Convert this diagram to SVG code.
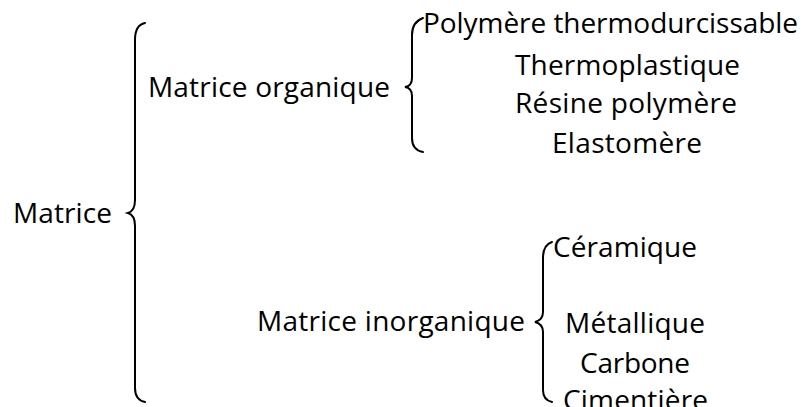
<svg xmlns="http://www.w3.org/2000/svg" width="811" height="407" viewBox="0 0 811 407">
<style>
text{font-family:"Open Sans","Liberation Sans",sans-serif;font-size:28px;fill:#000}
.br{fill:none;stroke:#000;stroke-width:2;stroke-linecap:round}
</style>
<rect width="811" height="407" fill="#fff"/>
<g id="connectors">
<path class="br" d="M145,23 Q135,25 135,40 L135,200 Q135,211 128,213 Q135,215 135,226 L135,388 Q135,400 145,402"/>
<path class="br" d="M423,18 Q412,22 412,35 L412,78 Q412,86 405,87 Q412,88 412,96 L412,138 Q412,150 423,152"/>
<path class="br" d="M552,242 Q543,245 543,258 L543,312 Q543,320 535,322 Q543,324 543,332 L543,390 Q543,400 552,402"/>
</g>
<g id="n-matrice"><text x="13" y="223" textLength="99">Matrice</text></g>
<g id="n-organique"><text x="148" y="97" textLength="242">Matrice organique</text></g>
<g id="n-inorganique"><text x="257" y="331" textLength="268">Matrice inorganique</text></g>
<g id="n-poly"><text x="423" y="33" textLength="375">Polymère thermodurcissable</text></g>
<g id="n-thermo"><text x="515" y="75" textLength="225">Thermoplastique</text></g>
<g id="n-resine"><text x="515" y="113" textLength="222">Résine polymère</text></g>
<g id="n-elasto"><text x="552" y="153" textLength="150">Elastomère</text></g>
<g id="n-ceram"><text x="553" y="257" textLength="144">Céramique</text></g>
<g id="n-metal"><text x="565" y="333" textLength="140">Métallique</text></g>
<g id="n-carbone"><text x="580" y="373" textLength="110">Carbone</text></g>
<g id="n-ciment"><text x="563" y="410" textLength="145">Cimentière</text></g>
</svg>
